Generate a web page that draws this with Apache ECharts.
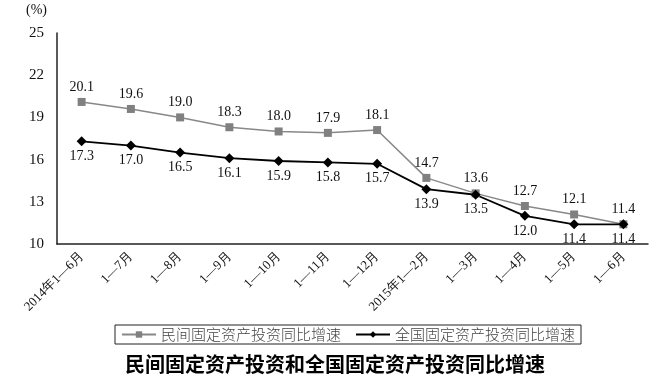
<!DOCTYPE html>
<html><head><meta charset="utf-8">
<script src="https://cdn.jsdelivr.net/npm/echarts@6/dist/echarts.min.js"></script>
<style>html,body{margin:0;padding:0;background:#fff}#c{width:670px;height:381px}</style>
</head><body><div id="c"></div>
<script>
const categories = ['2014年1—6月','1—7月','1—8月','1—9月','1—10月','1—11月','1—12月','2015年1—2月','1—3月','1—4月','1—5月','1—6月'];
const privateInv = [20.1,19.6,19.0,18.3,18.0,17.9,18.1,14.7,13.6,12.7,12.1,11.4];
const nationalInv = [17.3,17.0,16.5,16.1,15.9,15.8,15.7,13.9,13.5,12.0,11.4,11.4];
const seriesNames = ['民间固定资产投资同比增速','全国固定资产投资同比增速'];
const titleText = '民间固定资产投资和全国固定资产投资同比增速';
const serif = '"Liberation Serif","DejaVu Serif",serif';
const chart = echarts.init(document.getElementById('c'));
chart.setOption({
  backgroundColor:'#fff',
  animation:false,
  title:{text:titleText,left:'center',top:349,textStyle:{fontFamily:'"Noto Sans CJK SC"',fontWeight:'bold',fontSize:20,color:'#000'}},
  legend:{top:325,left:115,itemGap:14,itemWidth:34,itemHeight:8,padding:[2,6,2,6],borderColor:'#222',borderWidth:1,
    textStyle:{fontFamily:'"Noto Sans CJK SC"',fontSize:15,fontWeight:300,color:'#444'},
    data:seriesNames},
  grid:{left:57,right:22,top:33,bottom:137},
  xAxis:{type:'category',data:categories,boundaryGap:true,
    axisLine:{lineStyle:{color:'#222',width:1.5}},
    axisTick:{inside:true,length:5,lineStyle:{color:'#222'}},
    axisLabel:{rotate:45,fontFamily:serif,fontSize:13,color:'#111',margin:10,interval:0}},
  yAxis:{type:'value',min:10,max:25,interval:3,name:'(%)',nameLocation:'end',nameGap:16,
    nameTextStyle:{fontFamily:serif,fontSize:14,color:'#111',align:'right',padding:[0,10,0,0]},
    axisLine:{show:true,lineStyle:{color:'#222',width:1.5}},axisTick:{show:false},splitLine:{show:false},
    axisLabel:{fontFamily:serif,fontSize:15,color:'#111',margin:13}},
  series:[
    {name:seriesNames[0],type:'line',data:privateInv,symbol:'rect',symbolSize:8,
      lineStyle:{color:'#888',width:1.5},itemStyle:{color:'#808080'},
      label:{show:true,position:'top',distance:4,formatter:p=>p.value.toFixed(1),fontFamily:serif,fontSize:14,color:'#111'}},
    {name:seriesNames[1],type:'line',data:nationalInv,symbol:'diamond',symbolSize:10,
      lineStyle:{color:'#000',width:1.8},itemStyle:{color:'#000'},
      label:{show:true,position:'bottom',distance:3,formatter:p=>p.value.toFixed(1),fontFamily:serif,fontSize:14,color:'#111'}}
  ]
});
</script></body></html>
